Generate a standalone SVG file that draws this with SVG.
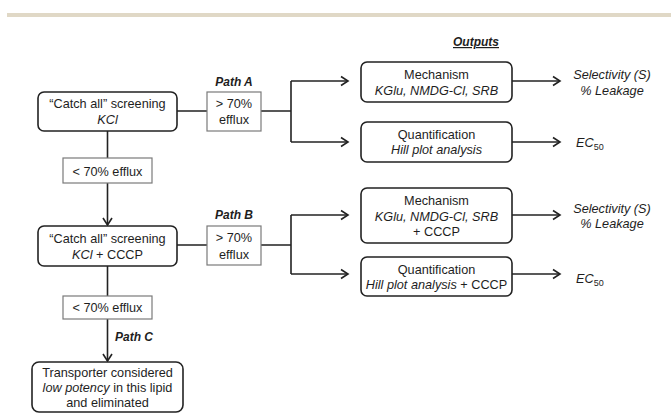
<svg xmlns="http://www.w3.org/2000/svg" width="671" height="413" viewBox="0 0 671 413">
<style>
text{font-family:"Liberation Sans",Arial,sans-serif;fill:#1e1e1e;font-size:12.7px;text-anchor:middle}
.i{font-style:italic}
.lbl{font-weight:bold;font-style:italic;font-size:12px}
.rb{fill:#fff;stroke:#222;stroke-width:1.6}
.eb{fill:#fff;stroke:#7a7a7a;stroke-width:1.2}
.c{fill:none;stroke:#222;stroke-width:1.6}
.sub{font-size:9px;font-style:normal}
</style>
<defs>
<marker id="ah" markerWidth="12" markerHeight="12" viewBox="0 0 12 12" refX="10" refY="6" orient="auto" markerUnits="userSpaceOnUse">
<polyline points="3,1.5 10,6 3,10.5" fill="none" stroke="#222" stroke-width="1.6"/>
</marker>
</defs>
<rect x="7" y="13" width="664" height="4" fill="#e0d8c6"/>
<text x="476" y="46" class="lbl" text-decoration="underline">Outputs</text>
<g id="connectors">
<path class="c" d="M177,111 H207 M261,111 H291 M291,81 V142"/>
<path class="c" d="M291,81 H348" marker-end="url(#ah)"/>
<path class="c" d="M291,142 H348" marker-end="url(#ah)"/>
<path class="c" d="M512,81 H560" marker-end="url(#ah)"/>
<path class="c" d="M512,142 H560" marker-end="url(#ah)"/>
<path class="c" d="M107.5,131 V158"/>
<path class="c" d="M107.5,183 V225" marker-end="url(#ah)"/>
<path class="c" d="M177,245 H207 M261,245 H291 M291,215 V274"/>
<path class="c" d="M291,215 H348" marker-end="url(#ah)"/>
<path class="c" d="M291,274 H348" marker-end="url(#ah)"/>
<path class="c" d="M512,215 H560" marker-end="url(#ah)"/>
<path class="c" d="M512,274 H560" marker-end="url(#ah)"/>
<path class="c" d="M107.5,266 V296"/>
<path class="c" d="M107.5,319 V361" marker-end="url(#ah)"/>
</g>
<g id="screen1">
<rect class="rb" x="38" y="92" width="139" height="39" rx="6"/>
<text x="107.5" y="107.5">“Catch all” screening</text>
<text x="107.5" y="124" class="i">KCl</text>
</g>
<g id="pathA">
<text x="234" y="86" class="lbl">Path A</text>
<rect class="eb" x="207" y="92" width="54" height="39"/>
<text x="234" y="107.5">&gt; 70%</text>
<text x="234" y="124">efflux</text>
</g>
<g id="below1">
<rect class="eb" x="63" y="158" width="89" height="25"/>
<text x="107.5" y="176">&lt; 70% efflux</text>
</g>
<g id="mech1">
<rect class="rb" x="361" y="62" width="151" height="40" rx="6"/>
<text x="436.5" y="79">Mechanism</text>
<text x="436.5" y="94.5" class="i">KGlu, NMDG-Cl, SRB</text>
</g>
<g id="quant1">
<rect class="rb" x="361" y="122" width="151" height="40" rx="6"/>
<text x="436.5" y="138.5">Quantification</text>
<text x="436.5" y="153.5" class="i">Hill plot analysis</text>
</g>
<g id="out1">
<text x="612" y="79" class="i">Selectivity (S)</text>
<text x="612" y="94.5" class="i">% Leakage</text>
</g>
<g id="ec1">
<text x="576" y="147" class="i" style="text-anchor:start">EC<tspan class="sub" dy="3">50</tspan></text>
</g>
<g id="screen2">
<rect class="rb" x="38" y="226" width="139" height="40" rx="6"/>
<text x="107.5" y="242.5">“Catch all” screening</text>
<text x="107.5" y="258.5"><tspan class="i">KCl</tspan> + CCCP</text>
</g>
<g id="pathB">
<text x="234" y="219" class="lbl">Path B</text>
<rect class="eb" x="207" y="226" width="54" height="39"/>
<text x="234" y="242">&gt; 70%</text>
<text x="234" y="258.5">efflux</text>
</g>
<g id="mech2">
<rect class="rb" x="361" y="188" width="151" height="55" rx="6"/>
<text x="436.5" y="204.5">Mechanism</text>
<text x="436.5" y="220.5" class="i">KGlu, NMDG-Cl, SRB</text>
<text x="436.5" y="236">+ CCCP</text>
</g>
<g id="quant2">
<rect class="rb" x="361" y="257" width="151" height="39" rx="6"/>
<text x="436.5" y="273.5">Quantification</text>
<text x="436.5" y="288.5"><tspan class="i">Hill plot analysis</tspan> + CCCP</text>
</g>
<g id="out2">
<text x="612" y="212.5" class="i">Selectivity (S)</text>
<text x="612" y="227.5" class="i">% Leakage</text>
</g>
<g id="ec2">
<text x="576" y="283" class="i" style="text-anchor:start">EC<tspan class="sub" dy="3">50</tspan></text>
</g>
<g id="below2">
<rect class="eb" x="63" y="296" width="89" height="23"/>
<text x="107.5" y="311.5">&lt; 70% efflux</text>
<text x="115" y="341" class="lbl" style="text-anchor:start">Path C</text>
</g>
<g id="eliminated">
<rect class="rb" x="32" y="362" width="151" height="50" rx="7"/>
<text x="107.5" y="377">Transporter considered</text>
<text x="107.5" y="392"><tspan class="i">low potency</tspan> in this lipid</text>
<text x="107.5" y="407">and eliminated</text>
</g>
</svg>
